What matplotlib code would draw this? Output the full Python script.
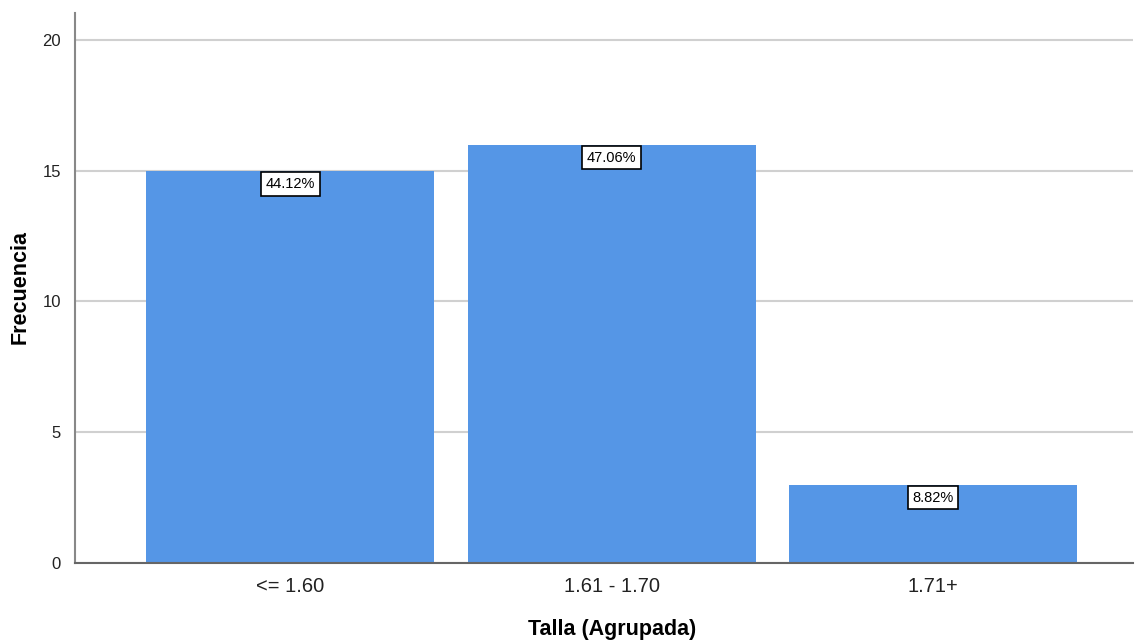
import matplotlib.pyplot as plt

# datos
categorias = ['<= 1.60', '1.61 - 1.70', '1.71+']
frecuencias = [15, 16, 3]
porcentajes = ['44.12%', '47.06%', '8.82%']

plt.rcParams['font.family'] = ['Liberation Sans', 'DejaVu Sans']

fig = plt.figure(figsize=(11.35, 6.42), dpi=100)
ax = fig.add_axes([75/1135, 79/642, (1133-75)/1135, (563-13)/642])

x = range(len(categorias))
barras = ax.bar(x, frecuencias, width=0.896, color='#5596E6', zorder=2)

for b, p in zip(barras, porcentajes):
    ax.text(b.get_x() + b.get_width()/2, b.get_height() - 0.5, p,
            ha='center', va='center', fontsize=10.5, zorder=3,
            bbox=dict(boxstyle='square,pad=0.33', facecolor='white', edgecolor='black', linewidth=1.2))

ax.set_xlim(-0.669, 2.622)
ax.set_ylim(0, 21.03)
ax.set_yticks([0, 5, 10, 15, 20])
ax.set_xticks(list(x))
ax.set_xticklabels(categorias, fontsize=14.5, color='#222222')
ax.tick_params(axis='y', labelsize=12, colors='#222222', length=0, pad=10)
ax.tick_params(axis='x', length=0, pad=10)

ax.grid(axis='y', color='#d0d0d0', linewidth=1.5, zorder=0)
for s in ['top', 'right']:
    ax.spines[s].set_visible(False)
ax.spines['left'].set_color('#888888')
ax.spines['left'].set_linewidth(1.5)
ax.spines['bottom'].set_color('#666666')
ax.spines['bottom'].set_linewidth(1.5)

ax.set_xlabel('Talla (Agrupada)', fontsize=15.5, fontweight='bold')
ax.set_ylabel('Frecuencia', fontsize=15.5, fontweight='bold')
ax.xaxis.set_label_coords((612 - 75) / 1058, -(630 - 563) / 550)
ax.yaxis.set_label_coords(-(75 - 20) / 1058, (563 - 287) / 550)
ax.xaxis.label.set_va('center')
ax.yaxis.label.set_va('center')

fig.savefig('out.png', dpi=100)
